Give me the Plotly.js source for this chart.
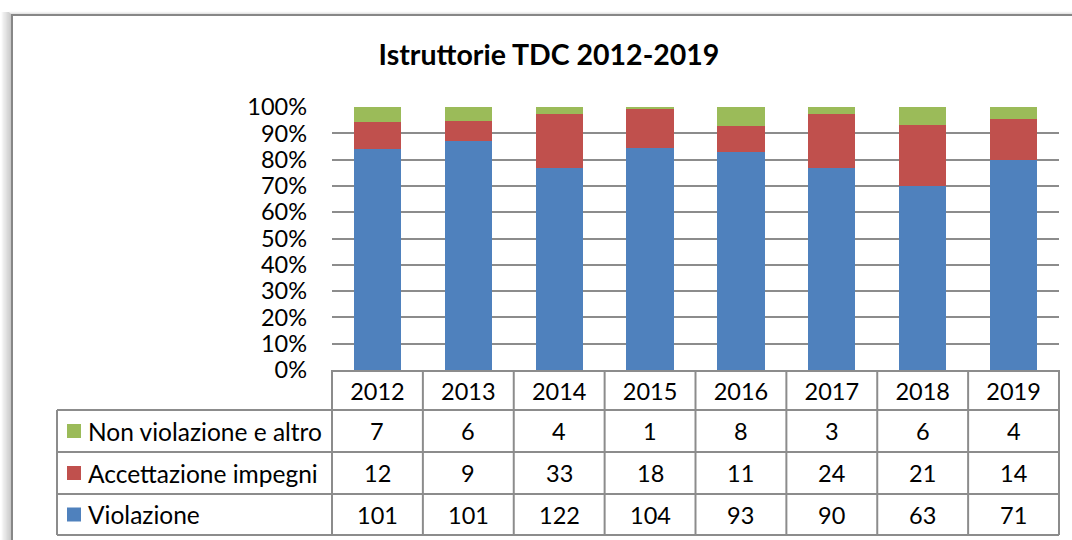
<!DOCTYPE html>
<html>
<head>
<meta charset="utf-8">
<script src="https://cdn.plot.ly/plotly-3.0.1.min.js"></script>
<style>
  body { margin: 0; background: #fff; }
  #chart { width: 1072px; height: 540px; }
</style>
</head>
<body>
<div id="chart"></div>
<script>
// counts per year
const years = ['2012', '2013', '2014', '2015', '2016', '2017', '2018', '2019'];
const nonViolazione = [7, 6, 4, 1, 8, 3, 6, 4];
const accettazioneImpegni = [12, 9, 33, 18, 11, 24, 21, 14];
const violazione = [101, 101, 122, 104, 93, 90, 63, 71];

const seriesNames = ['Non violazione e altro', 'Accettazione impegni', 'Violazione'];
const seriesColors = ['#9BBB59', '#C0504D', '#4F81BD'];

const FONT = 'Lato, "Liberation Sans", Arial, sans-serif';
const LINE = '#8c8c8c';

// pixel helpers (plot area: x 332..1059, paper y 107..535)
const W = 1072, H = 540;
const L = 332, R = 13, T = 107, B = 5;
const plotW = W - L - R, plotH = H - T - B;
const px = x => (x - L) / plotW;
const py = y => (H - B - y) / plotH;

const axisBottom = 370;
const rowLines = [410, 452, 494, 535];
const tableLeft = 57;

const traces = [
    { name: seriesNames[2], y: violazione, color: seriesColors[2] },
    { name: seriesNames[1], y: accettazioneImpegni, color: seriesColors[1] },
    { name: seriesNames[0], y: nonViolazione, color: seriesColors[0] }
].map(s => ({
    type: 'bar',
    x: years,
    y: s.y,
    name: s.name,
    marker: { color: s.color, line: { width: 0 } },
    hoverinfo: 'skip'
}));

const shapes = [];
const annotations = [];

// chart frame with a soft shadow on the left and top
for (let k = 1; k <= 10; k++) {
    shapes.push({
        type: 'line', xref: 'paper', yref: 'paper', layer: 'below',
        x0: px(12 - k), x1: px(12 - k), y0: py(15 - Math.min(k, 3)), y1: py(560),
        line: { color: 'rgba(120,120,120,' + (0.5 - k * 0.045).toFixed(3) + ')', width: 1 }
    });
}
for (let k = 1; k <= 3; k++) {
    shapes.push({
        type: 'line', xref: 'paper', yref: 'paper', layer: 'below',
        x0: px(12 - k), x1: px(1090), y0: py(15 - k), y1: py(15 - k),
        line: { color: 'rgba(120,120,120,' + (0.35 - k * 0.1).toFixed(3) + ')', width: 1 }
    });
}
shapes.push({
    type: 'rect', xref: 'paper', yref: 'paper', layer: 'below',
    x0: px(12), x1: px(1100), y0: py(15), y1: py(600),
    line: { color: '#878787', width: 2 }, fillcolor: 'rgba(0,0,0,0)'
});

// data table: horizontal lines
rowLines.forEach(y => {
    shapes.push({
        type: 'line', xref: 'paper', yref: 'paper',
        x0: px(tableLeft), x1: 1, y0: py(y), y1: py(y),
        line: { color: LINE, width: 2 }
    });
});
// data table: left edge of the legend column
shapes.push({
    type: 'line', xref: 'paper', yref: 'paper',
    x0: px(tableLeft), x1: px(tableLeft), y0: py(rowLines[0]), y1: py(rowLines[3]),
    line: { color: LINE, width: 2 }
});
// data table: vertical lines at category boundaries
for (let i = 0; i <= years.length; i++) {
    shapes.push({
        type: 'line', xref: 'paper', yref: 'paper',
        x0: i / years.length, x1: i / years.length, y0: py(axisBottom), y1: py(rowLines[3]),
        line: { color: LINE, width: 2 }
    });
}

// table rows: legend key + values
const rowData = [nonViolazione, accettazioneImpegni, violazione];
rowData.forEach((vals, r) => {
    const mid = (rowLines[r] + rowLines[r + 1]) / 2;
    shapes.push({
        type: 'rect', xref: 'paper', yref: 'paper',
        x0: px(67), x1: px(81), y0: py(mid - 7), y1: py(mid + 7),
        fillcolor: seriesColors[r], line: { width: 0 }
    });
    annotations.push({
        xref: 'paper', yref: 'paper', x: px(86), y: py(mid),
        xanchor: 'left', yanchor: 'middle', showarrow: false,
        text: seriesNames[r], font: { family: FONT, size: 24.5, color: '#000' }
    });
    vals.forEach((v, i) => {
        // category axis: annotation x is the category index
        annotations.push({
            xref: 'x', yref: 'paper', x: i, y: py(mid),
            xanchor: 'center', yanchor: 'middle', showarrow: false,
            text: String(v), font: { family: FONT, size: 23.5, color: '#000' }
        });
    });
});

const layout = {
    width: W,
    height: H,
    margin: { l: L, r: R, t: T, b: B },
    paper_bgcolor: '#fff',
    plot_bgcolor: 'rgba(0,0,0,0)',
    barmode: 'stack',
    barnorm: 'percent',
    bargap: 0.48,
    showlegend: false,
    font: { family: FONT, size: 23, color: '#000' },
    title: {
        text: '<b>Istruttorie TDC 2012-2019</b>',
        font: { family: FONT, size: 28.5, color: '#000' },
        x: 549 / W, xanchor: 'center',
        y: 1 - 55 / H, yanchor: 'middle'
    },
    xaxis: {
        type: 'category',
        range: [-0.5, years.length - 0.5],
        showgrid: false,
        showline: true, linecolor: LINE, linewidth: 2,
        ticks: '',
        ticklabelstandoff: 0,
        tickfont: { family: FONT, size: 23.5, color: '#000' },
        fixedrange: true
    },
    yaxis: {
        domain: [py(axisBottom), 1],
        range: [0, 100],
        dtick: 10,
        ticksuffix: '%',
        showgrid: true, gridcolor: LINE, gridwidth: 2,
        zeroline: false,
        showline: false,
        ticks: '',
        ticklabelstandoff: 24,
        tickfont: { family: FONT, size: 23.5, color: '#000' },
        fixedrange: true
    },
    shapes: shapes,
    annotations: annotations
};

Plotly.newPlot('chart', traces, layout, { displayModeBar: false, staticPlot: true });
</script>
</body>
</html>
